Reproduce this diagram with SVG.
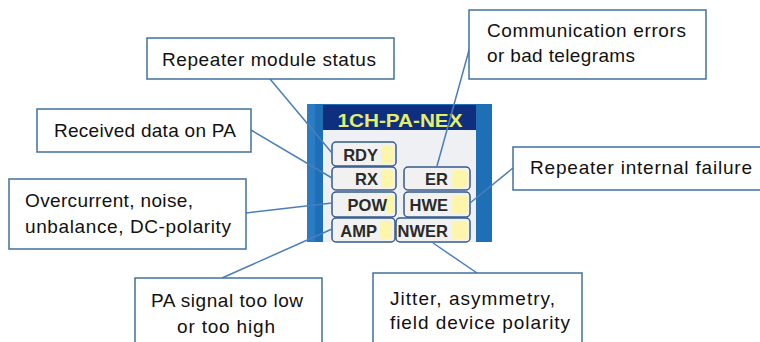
<svg xmlns="http://www.w3.org/2000/svg" width="760" height="342" viewBox="0 0 760 342">
<style>
.box{fill:#fff;stroke:#41719c;stroke-width:1.5}
.lbl{font-family:"Liberation Sans",Arial,sans-serif;font-size:19px;fill:#111}
.con{stroke:#4a7ebb;stroke-width:1.5;fill:none}
.btn{fill:#f1f1f1;stroke:#36598a;stroke-width:1.5}
.hl{fill:#fff6a0;opacity:0.85}
.bt{font-family:"Liberation Sans",Arial,sans-serif;font-size:16.5px;font-weight:bold;fill:#2a2a2a;text-anchor:end}
</style>
<rect width="760" height="342" fill="#fff"/>
<g id="device">
  <rect x="307" y="104" width="185" height="138" fill="#1f6fb7"/>
  <rect x="307" y="104" width="8" height="138" fill="#2a7cc4"/>
  <rect x="323" y="105" width="153" height="25" fill="#0e2f80"/>
  <rect x="323" y="130" width="153" height="112" fill="#eef0f4"/>
  <text x="400" y="127" text-anchor="middle" font-family="'Liberation Sans',Arial,sans-serif" font-size="18" font-weight="bold" fill="#e4ee6c" textLength="125" lengthAdjust="spacingAndGlyphs">1CH-PA-NEX</text>
</g>
<g id="btn-rdy">
  <rect class="btn" x="332" y="142" width="64" height="24" rx="4"/>
  <rect class="hl" x="381" y="145" width="12" height="18" rx="3"/>
  <text class="bt" x="378" y="161">RDY</text>
</g>
<g id="btn-rx">
  <rect class="btn" x="332" y="167" width="64" height="23" rx="4"/>
  <rect class="hl" x="381" y="170" width="12" height="17" rx="3"/>
  <text class="bt" x="378" y="185">RX</text>
</g>
<g id="btn-er">
  <rect class="btn" x="404" y="167" width="66" height="23" rx="4"/>
  <rect class="hl" x="452" y="170" width="15" height="17" rx="3"/>
  <text class="bt" x="448" y="185">ER</text>
</g>
<g id="btn-pow">
  <rect class="btn" x="332" y="192" width="64" height="25" rx="4"/>
  <rect class="hl" x="386" y="195" width="8" height="19" rx="3"/>
  <text class="bt" x="387" y="211">POW</text>
</g>
<g id="btn-hwe">
  <rect class="btn" x="404" y="192" width="66" height="25" rx="4"/>
  <rect class="hl" x="452" y="195" width="15" height="19" rx="3"/>
  <text class="bt" x="448" y="211">HWE</text>
</g>
<g id="btn-amp">
  <rect class="btn" x="332" y="218" width="63" height="24" rx="4"/>
  <rect class="hl" x="380" y="221" width="12" height="18" rx="3"/>
  <text class="bt" x="377" y="237">AMP</text>
</g>
<g id="btn-nwer">
  <rect class="btn" x="396" y="218" width="74" height="24" rx="4"/>
  <rect class="hl" x="452" y="221" width="15" height="18" rx="3"/>
  <text class="bt" x="448" y="237">NWER</text>
</g>
<g id="connectors">
  <line class="con" x1="270" y1="79" x2="332" y2="153"/>
  <line class="con" x1="251" y1="130" x2="332" y2="178"/>
  <line class="con" x1="471" y1="43" x2="437" y2="166"/>
  <line class="con" x1="513" y1="168" x2="470" y2="203"/>
  <line class="con" x1="246" y1="213" x2="332" y2="203"/>
  <line class="con" x1="222" y1="278" x2="332" y2="229"/>
  <line class="con" x1="477" y1="273" x2="433" y2="243"/>
</g>
<g id="n-status">
  <rect class="box" x="147" y="38" width="247" height="41"/>
  <text class="lbl" x="162" y="66" textLength="214" lengthAdjust="spacing">Repeater  module status</text>
</g>
<g id="n-received">
  <rect class="box" x="37" y="109" width="214" height="43"/>
  <text class="lbl" x="54" y="137" textLength="182" lengthAdjust="spacing">Received data on PA</text>
</g>
<g id="n-comm">
  <rect class="box" x="469" y="10" width="237" height="69"/>
  <text class="lbl" x="487" y="37" textLength="199" lengthAdjust="spacing">Communication errors</text>
  <text class="lbl" x="487" y="62" textLength="148" lengthAdjust="spacing">or bad telegrams</text>
</g>
<g id="n-internal">
  <rect class="box" x="513" y="147" width="260" height="43"/>
  <text class="lbl" x="530" y="174" textLength="222" lengthAdjust="spacing">Repeater  internal failure</text>
</g>
<g id="n-overcurrent">
  <rect class="box" x="9" y="179" width="237" height="70"/>
  <text class="lbl" x="25" y="207" textLength="168" lengthAdjust="spacing">Overcurrent, noise,</text>
  <text class="lbl" x="25" y="233" textLength="206" lengthAdjust="spacing">unbalance, DC-polarity</text>
</g>
<g id="n-pasignal">
  <rect class="box" x="135" y="278" width="187" height="80"/>
  <text class="lbl" x="151" y="307" textLength="152" lengthAdjust="spacing">PA signal too low</text>
  <text class="lbl" x="177" y="333" textLength="98" lengthAdjust="spacing">or too high</text>
</g>
<g id="n-jitter">
  <rect class="box" x="373" y="273" width="209" height="85"/>
  <text class="lbl" x="390" y="305" textLength="165" lengthAdjust="spacing">Jitter, asymmetry,</text>
  <text class="lbl" x="390" y="329" textLength="180" lengthAdjust="spacing">field device polarity</text>
</g>
</svg>
